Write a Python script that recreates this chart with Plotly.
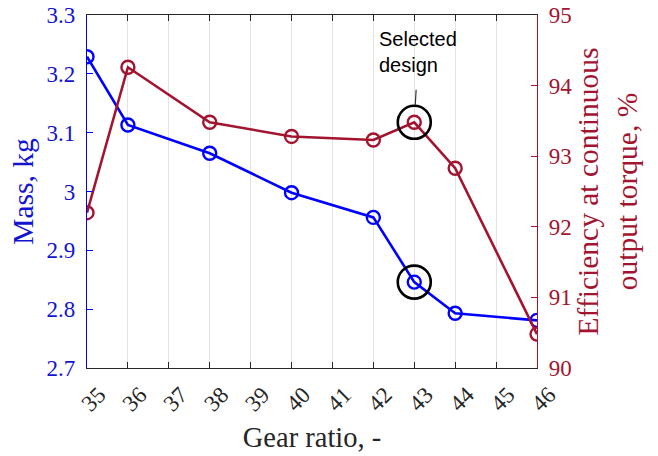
import plotly.graph_objects as go

# Gear ratio sweep: mass and efficiency of each design
gear_ratio = [35, 36, 38, 40, 42, 43, 44, 46]
mass_kg = [3.229, 3.113, 3.065, 2.998, 2.956, 2.846, 2.793, 2.781]
efficiency_pct = [92.20, 94.26, 93.48, 93.28, 93.23, 93.48, 92.83, 90.48]

selected_ratio = 43
x_ticks = list(range(35, 47))

BLUE = "#0000FF"
RED = "#A2142F"
SERIF = "Liberation Serif"
SANS = "Liberation Sans"

sel = gear_ratio.index(selected_ratio)

fig = go.Figure()

fig.add_trace(go.Scatter(
    x=gear_ratio, y=mass_kg, mode="lines+markers", yaxis="y",
    line=dict(color=BLUE, width=2.6),
    marker=dict(symbol="circle-open", size=13, color=BLUE, line=dict(width=2.4)),
    showlegend=False,
))
fig.add_trace(go.Scatter(
    x=gear_ratio, y=efficiency_pct, mode="lines+markers", yaxis="y2",
    line=dict(color=RED, width=2.6),
    marker=dict(symbol="circle-open", size=13, color=RED, line=dict(width=2.4)),
    showlegend=False,
))

# Highlight rings around the selected design on both curves
fig.add_trace(go.Scatter(
    x=[gear_ratio[sel]], y=[mass_kg[sel]], mode="markers", yaxis="y",
    marker=dict(symbol="circle-open", size=33, color="black", line=dict(width=2.6)),
    showlegend=False,
))
fig.add_trace(go.Scatter(
    x=[gear_ratio[sel]], y=[efficiency_pct[sel]], mode="markers", yaxis="y2",
    marker=dict(symbol="circle-open", size=33, color="black", line=dict(width=2.6)),
    showlegend=False,
))

fig.add_annotation(
    x=gear_ratio[sel], y=efficiency_pct[sel], xref="x", yref="y2",
    text="Selected<br>design", align="left",
    font=dict(family=SANS, size=20, color="black"),
    showarrow=True, arrowhead=0, arrowwidth=1.2, arrowcolor="#333333",
    ax=4, ay=-70, standoff=17, startstandoff=12,
)

fig.update_layout(
    width=658, height=456,
    margin=dict(l=87, r=121, t=15, b=88, autoexpand=False),
    paper_bgcolor="white", plot_bgcolor="white",
    xaxis=dict(
        range=[35, 46], tickvals=x_ticks, ticktext=[str(v) for v in x_ticks],
        tickangle=-45, ticks="inside", ticklen=6, tickcolor="#262626",
        showline=True, linecolor="#262626", linewidth=1.3, mirror="ticks",
        showgrid=True, gridcolor="#E3E3E3", gridwidth=1, zeroline=False,
        ticklabelstandoff=3, ticklabelshift=12, automargin=False,
        tickfont=dict(family=SERIF, size=23, color="#262626"),
        title=dict(text="Gear ratio, -", font=dict(family=SERIF, size=28.5, color="#262626"),
                   standoff=11),
    ),
    yaxis=dict(
        range=[2.7, 3.3], dtick=0.1, tick0=2.7, ticks="inside", ticklen=6,
        tickcolor=BLUE, showline=True, linecolor=BLUE, linewidth=1.3,
        showgrid=False, zeroline=False, ticklabelstandoff=6, automargin=False,
        tickfont=dict(family=SERIF, size=23, color="#1414D0"),
        title=dict(text="Mass, kg", font=dict(family=SERIF, size=29.5, color="#1414D0"),
                   standoff=4),
    ),
    yaxis2=dict(
        range=[90, 95], dtick=1, overlaying="y", side="right", ticks="inside",
        ticklen=6, tickcolor=RED, showline=True, linecolor=RED, linewidth=1.3,
        showgrid=False, zeroline=False, ticklabelstandoff=6, automargin=False,
        tickfont=dict(family=SERIF, size=23, color=RED),
        title=dict(text="Efficiency at continuous<br>output torque, %",
                   font=dict(family=SERIF, size=29.5, color=RED), standoff=6),
    ),
)

fig.write_html("out.html")
